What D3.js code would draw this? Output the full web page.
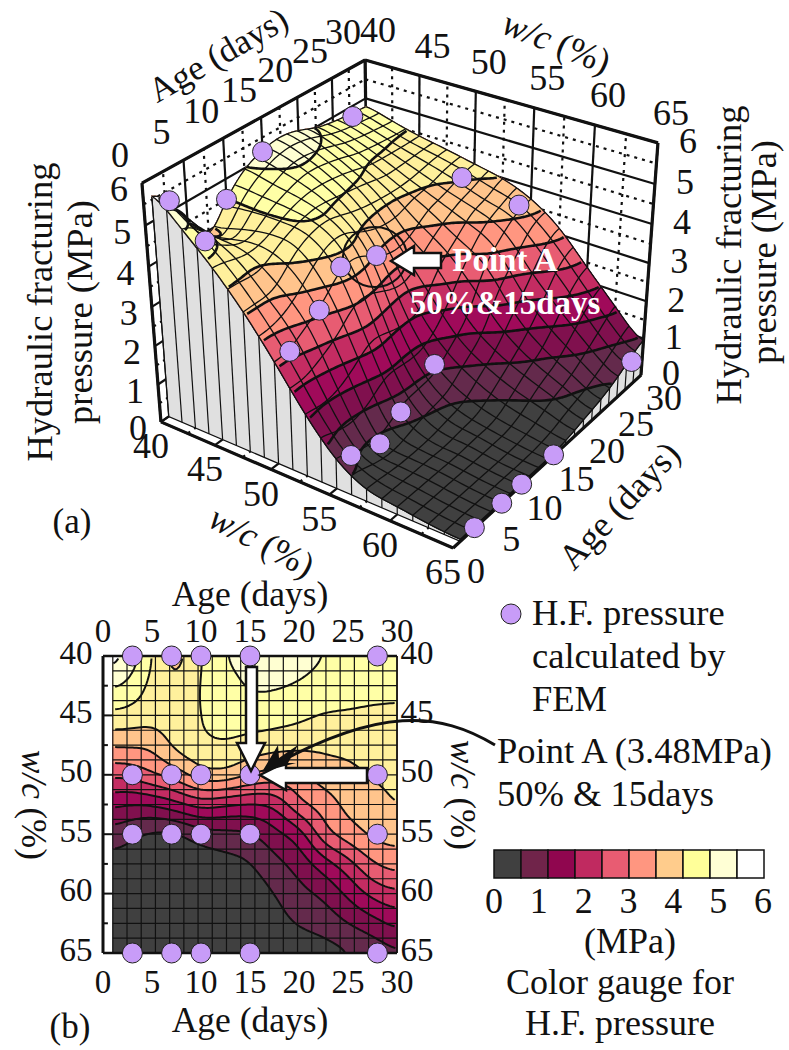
<!DOCTYPE html>
<html lang="en">
<head>
  <meta charset="UTF-8">
  <title>Hydraulic fracturing pressure</title>
  <script src="https://d3js.org/d3.v7.min.js"></script>
  <style>
    body { margin: 0; background: #fff; }
    svg { display: block; }
    text { font-family: "Liberation Serif", serif; fill: #111; }
  </style>
</head>
<body>
  <svg id="chart" width="789" height="1050"></svg>
  <script>
    const ageGrid = [0, 2.5, 5, 7.5, 10, 12.5, 15, 17.5, 20, 22.5, 25, 27.5, 30];
    const wcGrid = [40, 42.5, 45, 47.5, 50, 52.5, 55, 57.5, 60, 62.5, 65];
    const pressure = [
      [5.9, 5.4, 4.5, 3.8, 4.5, 5.0, 5.2, 5.3, 5.2, 5.0, 4.9, 4.85, 4.8],
      [5.15, 4.9, 4.35, 4.05, 4.55, 4.8, 5.05, 5.05, 4.95, 4.8, 4.7, 4.65, 4.6],
      [4.4, 4.33, 4.2, 4.25, 4.5, 4.7, 4.75, 4.7, 4.6, 4.47, 4.45, 4.42, 4.43],
      [3.55, 3.58, 3.6, 4.15, 4.4, 4.45, 4.3, 4.2, 4.15, 4.1, 4.15, 4.25, 4.3],
      [2.65, 2.62, 2.95, 3.25, 3.8, 3.85, 3.5, 3.3, 3.35, 3.75, 3.85, 4.05, 4.15],
      [1.68, 1.52, 1.55, 1.85, 2.2, 2.05, 1.95, 2.1, 2.9, 3.2, 3.65, 3.75, 4.03],
      [0.9, 0.63, 0.4, 0.4, 0.75, 0.85, 0.93, 1.35, 1.75, 2.8, 3.25, 3.6, 3.7],
      [0.3, 0.3, 0.25, 0.25, 0.25, 0.35, 0.47, 0.85, 1.2, 1.75, 2.3, 2.95, 3.2],
      [0.2, 0.2, 0.2, 0.2, 0.2, 0.25, 0.25, 0.5, 0.85, 1.1, 1.6, 2.15, 2.4],
      [0.1, 0.1, 0.1, 0.1, 0.1, 0.1, 0.15, 0.3, 0.55, 0.7, 1.0, 1.3, 1.65],
      [0.05, 0.05, 0.05, 0.05, 0.05, 0.05, 0.05, 0.1, 0.2, 0.3, 0.45, 0.68, 0.9]
    ];

    // FEM points
    const femAges = [3, 7, 10, 15, 28];
    const femWc = [40, 50, 55, 65];
    const femPressure = [
      [5.25, 3.8, 4.5, 5.15, 4.72],
      [2.6, 3.1, 3.8, 3.48, 4.0],
      [0.55, 0.25, 0.65, 1.2, 3.75],
      [0.02, 0.0, 0.02, 0.02, 0.65]
    ];

    const ageTicks = [0, 5, 10, 15, 20, 25, 30];
    const wcTicks = [40, 45, 50, 55, 60, 65];
    const zTicks = [0, 1, 2, 3, 4, 5, 6];
    const gaugeTicks = [0, 1, 2, 3, 4, 5, 6];
    const contourLevels = d3.range(0.5, 6, 0.5);
    const bandColors = ['#404040', '#642a4c', '#80104e', '#a00a5a', '#c42c62', '#e85c72',
      '#ff9680', '#ffc48c', '#fff09c', '#ffffa6', '#ffffd2', '#ffffff'];
    const gaugeColors = ['#404040', '#70244a', '#90064f', '#c02a60', '#e85c72',
      '#ff9680', '#ffcc8c', '#ffff99', '#ffffd5', '#ffffff'];
    const markerColor = '#c89cf8';

    const svg = d3.select('#chart');

    // surface: catmull-rom through the table
    function cr(p0, p1, p2, p3, t) {
      return 0.5 * (2 * p1 + (p2 - p0) * t + (2 * p0 - 5 * p1 + 4 * p2 - p3) * t * t + (3 * p1 - p0 - 3 * p2 + p3) * t * t * t);
    }
    function tableSurface(age, wc) {
      const fx = Math.min(age / 2.5, ageGrid.length - 1.0001), fy = Math.min((wc - 40) / 2.5, wcGrid.length - 1.0001);
      const ix = Math.floor(fx), iy = Math.floor(fy);
      const at = (r, c) => pressure[Math.max(0, Math.min(wcGrid.length - 1, r))][Math.max(0, Math.min(ageGrid.length - 1, c))];
      const row = r => cr(at(r, ix - 1), at(r, ix), at(r, ix + 1), at(r, ix + 2), fx - ix);
      return Math.max(0.02, cr(row(iy - 1), row(iy), row(iy + 1), row(iy + 2), fy - iy));
    }

    // field sampled for contouring, lightly blurred to take the reading noise out
    const fieldN = 121;
    const fieldAge = d3.scaleLinear().domain([0.5, fieldN - 0.5]).range([1, 30]).clamp(true);
    const fieldWc = d3.scaleLinear().domain([0.5, fieldN - 0.5]).range([40, 65]).clamp(true);
    const field = [];
    for (let j = 0; j < fieldN; j++) for (let i = 0; i < fieldN; i++) {
      field.push(tableSurface(fieldAge(i + 0.5), fieldWc(j + 0.5)));
    }
    d3.blur2({ data: field, width: fieldN }, 3);
    function surface(age, wc) {
      const fx = Math.max(0, Math.min(fieldN - 1.001, (age - 1) / 29 * (fieldN - 1)));
      const fy = Math.max(0, Math.min(fieldN - 1.001, (wc - 40) / 25 * (fieldN - 1)));
      const ix = Math.floor(fx), iy = Math.floor(fy), tx = fx - ix, ty = fy - iy;
      const f = (r, c) => field[r * fieldN + c];
      return (f(iy, ix) * (1 - tx) + f(iy, ix + 1) * tx) * (1 - ty) + (f(iy + 1, ix) * (1 - tx) + f(iy + 1, ix + 1) * tx) * ty;
    }
    const contours = d3.contours().size([fieldN, fieldN]);
    const bands = [-1].concat(contourLevels).map(t => contours.thresholds([t])(field)[0]);
    const meshAges = d3.range(21).map(i => 1 + i * 29 / 20);
    const meshWcs = d3.range(21).map(i => 40 + i * 25 / 20);
    const lineGen = d3.line();

    function drawField(g, proj, meshWidth, contourWidth) {
      const toPt = c => { const a = fieldAge(c[0]), w = fieldWc(c[1]); return proj(a, w, surface(a, w)); };
      bands.forEach((band, k) => {
        const dd = band.coordinates.map(poly => poly.map(r => 'M' + r.map(toPt).join('L') + 'Z').join('')).join('');
        g.append('path').attr('d', dd).attr('fill', bandColors[k]).attr('fill-rule', 'evenodd')
          .attr('stroke', bandColors[k]).attr('stroke-width', 0.5);
      });
      const mesh = g.append('g').attr('fill', 'none').attr('stroke', '#111').attr('stroke-width', meshWidth);
      meshAges.forEach(a => {
        mesh.append('path').attr('d', lineGen(d3.range(0, 80.5).map(i => { const w = 40 + i * 25 / 80; return proj(a, w, surface(a, w)); })));
      });
      meshWcs.forEach(w => {
        mesh.append('path').attr('d', lineGen(d3.range(0, 80.5).map(i => { const a = 1 + i * 29 / 80; return proj(a, w, surface(a, w)); })));
      });
      const interior = c => c[0] > 0.5 && c[0] < fieldN - 0.5 && c[1] > 0.5 && c[1] < fieldN - 0.5;
      const line = d3.line().defined(interior).x(c => toPt(c)[0]).y(c => toPt(c)[1]);
      bands.slice(1).forEach(band => {
        band.coordinates.forEach(poly => poly.forEach(r => {
          g.append('path').attr('d', line(r)).attr('fill', 'none').attr('stroke', '#111')
            .attr('stroke-width', contourWidth).attr('stroke-linejoin', 'round');
        }));
      });
    }

    function label(x, y, txt, size, opts = {}) {
      const t = svg.append('text').attr('x', x).attr('y', y).attr('font-size', size)
        .attr('text-anchor', opts.anchor || 'middle').attr('dominant-baseline', 'middle').text(txt);
      if (opts.rotate !== undefined) t.attr('transform', `rotate(${opts.rotate} ${x} ${y})`);
      if (opts.fill) t.style('fill', opts.fill);
      if (opts.weight) t.attr('font-weight', opts.weight);
      return t;
    }
    function wcLabel(x, y, size, rotate) {
      const t = label(x, y, '', size, { rotate });
      t.append('tspan').attr('font-style', 'italic').text('w/c');
      t.append('tspan').text(' (%)');
    }
    function marker(p) {
      svg.append('circle').attr('cx', p[0]).attr('cy', p[1]).attr('r', 10)
        .attr('fill', markerColor).attr('stroke', '#222').attr('stroke-width', 1);
    }

    // ---- panel (a): perspective box
    const boxCorners = [
      [0, 0, 0, 161, 422], [1, 0, 0, 453, 548], [1, 1, 0, 641, 375],
      [0, 0, 1, 142, 183], [0, 1, 1, 365, 60], [1, 1, 1, 658, 143]
    ];
    function fitProjection(pts) {
      const A = [], b = [];
      pts.forEach(([u, v, w, x, y]) => {
        x /= 1000; y /= 1000;
        A.push([u, v, w, 1, 0, 0, 0, 0, -x * u, -x * v, -x * w]); b.push(x);
        A.push([0, 0, 0, 0, u, v, w, 1, -y * u, -y * v, -y * w]); b.push(y);
      });
      const n = 11;
      const M = d3.range(n).map(i => d3.range(n + 1).map(j =>
        d3.sum(A, (r, k) => r[i] * (j < n ? r[j] : b[k]))));
      for (let i = 0; i < n; i++) {
        let p = i;
        for (let r = i + 1; r < n; r++) if (Math.abs(M[r][i]) > Math.abs(M[p][i])) p = r;
        [M[i], M[p]] = [M[p], M[i]];
        for (let r = 0; r < n; r++) {
          if (r === i) continue;
          const f = M[r][i] / M[i][i];
          for (let c = i; c <= n; c++) M[r][c] -= f * M[i][c];
        }
      }
      return d3.range(n).map(i => M[i][n] / M[i][i]);
    }
    const H = fitProjection(boxCorners);
    const uScale = d3.scaleLinear().domain([40, 65]).range([0, 1]);
    const vScale = d3.scaleLinear().domain([0, 30]).range([0, 1]);
    const wScale = d3.scaleLinear().domain([0, 6]).range([0, 1]);
    function proj3(age, wc, z) {
      const u = uScale(wc), v = vScale(age), w = wScale(z);
      const d = H[8] * u + H[9] * v + H[10] * w + 1;
      return [1000 * (H[0] * u + H[1] * v + H[2] * w + H[3]) / d, 1000 * (H[4] * u + H[5] * v + H[6] * w + H[7]) / d];
    }
    const pa = svg.append('g');
    function seg(g, a, b, width, dash) {
      const s = g.append('path').attr('d', lineGen([a, b])).attr('stroke', '#111').attr('stroke-width', width).attr('fill', 'none');
      if (dash) s.attr('stroke-dasharray', dash);
    }
    // back walls and floor
    const dots = '3 5';
    d3.range(0, 6.01, 0.5).forEach(z => {
      const major = z % 1 === 0;
      seg(pa, proj3(0, 40, z), proj3(30, 40, z), 2.2, major ? null : dots);
      seg(pa, proj3(30, 40, z), proj3(30, 65, z), 2.2, major ? null : dots);
    });
    d3.range(0, 30.01, 2.5).forEach(a => {
      const major = a % 5 === 0;
      seg(pa, proj3(a, 40, 0), proj3(a, 40, 6), 2.2, major ? null : dots);
      seg(pa, proj3(a, 40, 0), proj3(a, 65, 0), 2.2, major ? null : dots);
    });
    d3.range(40, 65.01, 2.5).forEach(w => {
      const major = w % 5 === 0;
      seg(pa, proj3(30, w, 0), proj3(30, w, 6), 2.2, major ? null : dots);
      seg(pa, proj3(0, w, 0), proj3(30, w, 0), 2.2, major ? null : dots);
    });
    // side walls under the surface
    const wallLeft = d3.range(0, 80.5).map(i => { const w = 40 + i * 25 / 80; return proj3(1, w, surface(1, w)); })
      .concat([proj3(1, 65, 0), proj3(1, 40, 0)]);
    const wallRight = d3.range(0, 80.5).map(i => { const a = 1 + i * 29 / 80; return proj3(a, 65, surface(a, 65)); })
      .concat([proj3(30, 65, 0), proj3(1, 65, 0)]);
    [wallRight, wallLeft].forEach(w => pa.append('path').attr('d', lineGen(w) + 'Z').attr('fill', '#e0e0e0').attr('stroke', '#111').attr('stroke-width', 1.2));
    meshWcs.forEach(w => seg(pa, proj3(1, w, 0), proj3(1, w, surface(1, w)), 1.2));
    meshAges.forEach(a => seg(pa, proj3(a, 65, 0), proj3(a, 65, surface(a, 65)), 1.2));
    drawField(pa, proj3, 1.3, 2.6);
    // frame
    [[proj3(0, 40, 6), proj3(30, 40, 6)], [proj3(30, 40, 6), proj3(30, 65, 6)], [proj3(30, 65, 6), proj3(30, 65, 0)],
      [proj3(0, 40, 6), proj3(0, 40, 0)], [proj3(0, 40, 0), proj3(0, 65, 0)], [proj3(0, 65, 0), proj3(30, 65, 0)],
      [proj3(30, 40, 6), proj3(30, 40, 5)]]
      .forEach(([a, b]) => seg(pa, a, b, 3.2));

    pa.append('ellipse').attr('cx', 375).attr('cy', 257).attr('rx', 32).attr('ry', 30)
      .attr('fill', 'none').attr('stroke', '#111').attr('stroke-width', 2);

    femWc.forEach((w, r) => femAges.forEach((a, c) => marker(proj3(a, w, femPressure[r][c]))));

    function arrow(pts) {
      svg.append('path').attr('d', lineGen(pts) + 'Z').attr('fill', '#fff').attr('stroke', '#111').attr('stroke-width', 2.5).attr('stroke-linejoin', 'miter');
    }
    arrow([[391, 261], [414, 246], [414, 253], [441, 253], [441, 268], [414, 268], [414, 275]]);
    label(505, 263, 'Point A', 33, { fill: '#fff', weight: 'bold' });
    label(505, 306, '50%&15days', 33, { fill: '#fff', weight: 'bold' });

    // panel (a) tick labels
    const tick3 = 36;
    zTicks.forEach(z => {
      let p = proj3(0, 40, z); label(p[0] - 23, p[1] + 10, z, tick3);
      p = proj3(30, 65, z); label(p[0] + 30, p[1] + 2, z, tick3);
    });
    ageTicks.forEach(a => {
      let p = proj3(a, 40, 6); label(p[0] - 22, p[1] - 24, a, tick3);
      p = proj3(a, 65, 0); label(p[0] + 23, p[1] + 27, a, tick3);
    });
    wcTicks.forEach(w => {
      let p = proj3(30, w, 6); label(p[0] + 13, p[1] - 26, w, tick3);
      p = proj3(0, w, 0); label(p[0] - 10, p[1] + 28, w, tick3);
    });
    label(220, 58, 'Age (days)', 35, { rotate: -30 });
    wcLabel(555, 46, 36, 22);
    wcLabel(260, 545, 36, 28);
    label(622, 508, 'Age (days)', 36, { rotate: -47 });
    label(44, 312, 'Hydraulic fracturing', 36.5, { rotate: -90 });
    label(84, 312, 'pressure (MPa)', 36.5, { rotate: -90 });
    label(733, 255, 'Hydraulic fracturing', 36.5, { rotate: -90 });
    label(768, 252, 'pressure (MPa)', 36.5, { rotate: -90 });
    label(72, 525, '(a)', 35);

    // ---- panel (b): contour map
    const x2 = d3.scaleLinear().domain([0, 30]).range([103, 397]);
    const y2 = d3.scaleLinear().domain([40, 65]).range([656, 953]);
    const pb = svg.append('g');
    drawField(pb, (a, w) => [x2(a), y2(w)], 1.2, 2);
    seg(pb, [x2(30), y2(40)], [x2(30), y2(65)], 1.5);
    seg(pb, [x2(0), y2(40)], [x2(0), y2(65)], 3);
    seg(pb, [x2(0), y2(40)], [x2(30), y2(40)], 2.5);
    seg(pb, [x2(0), y2(65)], [x2(30), y2(65)], 2.5);
    d3.range(40, 65.01, 2.5).forEach(w => seg(pb, [x2(0), y2(w)], [x2(w % 5 === 0 ? 1 : 0.5), y2(w)], 2));

    femWc.forEach(w => femAges.forEach(a => marker([x2(a), y2(w)])));

    arrow([[251, 771], [237, 743], [246, 743], [246, 667], [257, 667], [257, 743], [265, 743]]);
    arrow([[260, 775], [286, 762], [286, 768], [367, 768], [367, 783], [286, 783], [286, 790]]);
    svg.append('path').attr('d', 'M495,745C440,712 380,705 265,770').attr('fill', 'none').attr('stroke', '#111').attr('stroke-width', 3);
    svg.append('path').attr('d', lineGen([[262, 772], [278, 745], [279, 758], [298, 745], [288, 763], [296, 763]]) + 'Z').attr('fill', '#111');

    const tick2 = 33;
    ageTicks.forEach(a => {
      label(x2(a), 634, a, tick2);
      label(x2(a), 985, a, tick2);
    });
    wcTicks.forEach(w => {
      label(76, y2(w), w, tick2);
      label(417, y2(w), w, tick2);
    });
    label(250, 598, 'Age (days)', 35.5);
    label(250, 1024, 'Age (days)', 35.5);
    wcLabel(30, 805, 35, 90);
    wcLabel(459, 795, 35, 90);
    label(70, 1030, '(b)', 35);

    // ---- legend
    marker([511, 614]);
    label(532, 617, 'H.F. pressure', 36.5, { anchor: 'start' });
    label(532, 660, 'calculated by', 36.5, { anchor: 'start' });
    label(532, 703, 'FEM', 36.5, { anchor: 'start' });
    label(497, 755, 'Point A (3.48MPa)', 36.5, { anchor: 'start' });
    label(497, 798, '50% & 15days', 36.5, { anchor: 'start' });

    const gx = d3.scaleBand().domain(d3.range(gaugeColors.length)).range([494, 764]);
    svg.append('g').selectAll('rect').data(gaugeColors).join('rect')
      .attr('x', (d, i) => gx(i)).attr('y', 850).attr('width', gx.bandwidth()).attr('height', 28)
      .attr('fill', d => d).attr('stroke', '#111').attr('stroke-width', 1.5);
    const gt = d3.scaleLinear().domain([0, 6]).range([494, 763]);
    gaugeTicks.forEach(t => label(gt(t), 905, t, 36));
    label(630, 945, '(MPa)', 36);
    label(620, 986, 'Color gauge for', 36);
    label(620, 1027, 'H.F. pressure', 36);
  </script>
</body>
</html>
